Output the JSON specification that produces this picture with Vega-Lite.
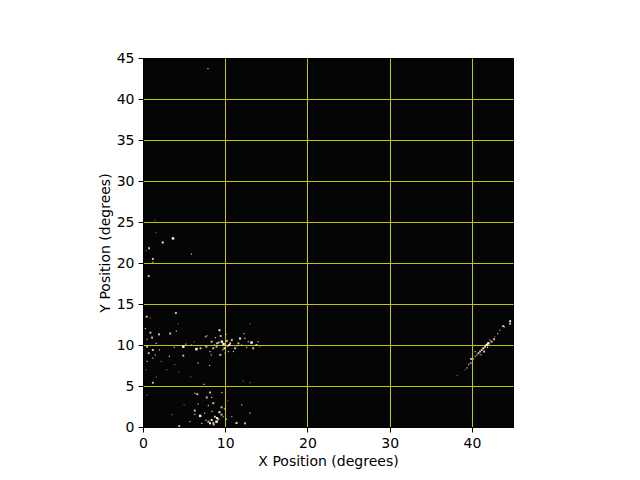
{
  "$schema": "https://vega.github.io/schema/vega-lite/v6.json",
  "width": 370,
  "height": 369,
  "autosize": {"type": "none"},
  "padding": {"left": 143, "top": 58, "right": 127, "bottom": 53},
  "background": "white",
  "config": {
    "view": {"fill": "#050505", "stroke": "black", "strokeWidth": 1},
    "axis": {
      "labelFont": "DejaVu Sans",
      "labelFontSize": 14,
      "labelColor": "black",
      "labelFlush": false,
      "titleFont": "DejaVu Sans",
      "titleFontSize": 14,
      "titleFontWeight": "normal",
      "titleColor": "black",
      "tickColor": "black",
      "tickSize": 5,
      "domainColor": "black",
      "labelPadding": 4,
      "gridColor": {"condition": {"test": "datum.value == 0 || datum.value == 45", "value": "transparent"}, "value": "#c4c400"},
      "gridOpacity": 1,
      "gridWidth": 1,
      "zindex": 1
    }
  },
  "data": {
    "values": [
      {"x": 7.9, "y": 43.7, "type": "G", "mag": 3},
      {"x": 1.5, "y": 25.2, "type": "M", "mag": 3},
      {"x": 1.6, "y": 23.7, "type": "M", "mag": 3},
      {"x": 2.4, "y": 22.5, "type": "F", "mag": 2},
      {"x": 3.65, "y": 23.0, "type": "F", "mag": 1},
      {"x": 0.73, "y": 21.8, "type": "G", "mag": 2},
      {"x": 0.4, "y": 21.5, "type": "M", "mag": 3},
      {"x": 5.9, "y": 21.1, "type": "G", "mag": 3},
      {"x": 1.2, "y": 20.5, "type": "G", "mag": 2},
      {"x": 1.2, "y": 20.1, "type": "G", "mag": 3},
      {"x": 0.7, "y": 18.4, "type": "G", "mag": 2},
      {"x": 0.45, "y": 13.45, "type": "G", "mag": 2},
      {"x": 0.9, "y": 13.3, "type": "M", "mag": 3},
      {"x": 4.0, "y": 13.9, "type": "G", "mag": 2},
      {"x": 0.3, "y": 12.0, "type": "G", "mag": 3},
      {"x": 0.9, "y": 11.5, "type": "G", "mag": 2},
      {"x": 1.1, "y": 10.9, "type": "G", "mag": 2},
      {"x": 1.95, "y": 11.3, "type": "G", "mag": 2},
      {"x": 3.3, "y": 11.4, "type": "G", "mag": 2},
      {"x": 4.05, "y": 11.7, "type": "G", "mag": 3},
      {"x": 4.3, "y": 12.6, "type": "M", "mag": 3},
      {"x": 0.5, "y": 10.7, "type": "G", "mag": 3},
      {"x": 0.5, "y": 9.8, "type": "G", "mag": 2},
      {"x": 0.7, "y": 9.0, "type": "G", "mag": 2},
      {"x": 1.2, "y": 9.4, "type": "G", "mag": 2},
      {"x": 1.5, "y": 8.8, "type": "G", "mag": 3},
      {"x": 2.0, "y": 9.4, "type": "G", "mag": 3},
      {"x": 4.9, "y": 8.7, "type": "B", "mag": 2},
      {"x": 3.2, "y": 8.6, "type": "G", "mag": 3},
      {"x": 3.8, "y": 9.7, "type": "G", "mag": 3},
      {"x": 4.9, "y": 9.8, "type": "F", "mag": 1},
      {"x": 5.9, "y": 10.0, "type": "G", "mag": 3},
      {"x": 6.5, "y": 9.5, "type": "F", "mag": 1},
      {"x": 7.0, "y": 9.6, "type": "G", "mag": 2},
      {"x": 7.6, "y": 11.0, "type": "G", "mag": 3},
      {"x": 7.7, "y": 9.8, "type": "G", "mag": 2},
      {"x": 6.7, "y": 7.8, "type": "G", "mag": 3},
      {"x": 0.5, "y": 8.0, "type": "G", "mag": 3},
      {"x": 2.2, "y": 8.0, "type": "M", "mag": 3},
      {"x": 5.2, "y": 10.1, "type": "G", "mag": 3},
      {"x": 6.2, "y": 10.4, "type": "M", "mag": 3},
      {"x": 2.6, "y": 10.0, "type": "M", "mag": 3},
      {"x": 1.6, "y": 10.2, "type": "G", "mag": 3},
      {"x": 9.3, "y": 11.8, "type": "F", "mag": 2},
      {"x": 9.45, "y": 11.1, "type": "G", "mag": 2},
      {"x": 8.8, "y": 10.9, "type": "G", "mag": 3},
      {"x": 8.35, "y": 10.4, "type": "G", "mag": 2},
      {"x": 9.2, "y": 10.3, "type": "B", "mag": 2},
      {"x": 9.6, "y": 10.4, "type": "F", "mag": 1},
      {"x": 9.8, "y": 10.1, "type": "F", "mag": 1},
      {"x": 8.95, "y": 9.8, "type": "G", "mag": 2},
      {"x": 8.55, "y": 9.6, "type": "G", "mag": 2},
      {"x": 8.15, "y": 9.2, "type": "G", "mag": 3},
      {"x": 10.6, "y": 10.2, "type": "G", "mag": 2},
      {"x": 10.8, "y": 10.6, "type": "G", "mag": 2},
      {"x": 11.2, "y": 9.6, "type": "G", "mag": 2},
      {"x": 11.0, "y": 9.2, "type": "G", "mag": 3},
      {"x": 11.6, "y": 10.2, "type": "G", "mag": 2},
      {"x": 11.8, "y": 10.8, "type": "F", "mag": 2},
      {"x": 12.3, "y": 11.4, "type": "G", "mag": 3},
      {"x": 12.4, "y": 10.8, "type": "G", "mag": 3},
      {"x": 13.2, "y": 10.3, "type": "F", "mag": 1},
      {"x": 13.4, "y": 9.6, "type": "G", "mag": 2},
      {"x": 13.8, "y": 10.0, "type": "G", "mag": 2},
      {"x": 12.6, "y": 9.7, "type": "G", "mag": 3},
      {"x": 10.4, "y": 9.2, "type": "G", "mag": 3},
      {"x": 10.0, "y": 9.0, "type": "G", "mag": 3},
      {"x": 9.4, "y": 8.8, "type": "G", "mag": 2},
      {"x": 8.3, "y": 8.8, "type": "G", "mag": 3},
      {"x": 7.75, "y": 11.1, "type": "G", "mag": 3},
      {"x": 13.0, "y": 12.6, "type": "M", "mag": 3},
      {"x": 10.2, "y": 10.5, "type": "G", "mag": 2},
      {"x": 9.9, "y": 9.6, "type": "F", "mag": 2},
      {"x": 10.3, "y": 9.9, "type": "G", "mag": 2},
      {"x": 9.0, "y": 10.2, "type": "G", "mag": 2},
      {"x": 8.7, "y": 10.0, "type": "G", "mag": 3},
      {"x": 10.1, "y": 11.3, "type": "G", "mag": 3},
      {"x": 11.4, "y": 9.9, "type": "G", "mag": 3},
      {"x": 12.0, "y": 10.0, "type": "G", "mag": 3},
      {"x": 14.0, "y": 10.4, "type": "G", "mag": 3},
      {"x": 12.8, "y": 10.4, "type": "G", "mag": 3},
      {"x": 10.5, "y": 10.0, "type": "F", "mag": 2},
      {"x": 9.7, "y": 9.4, "type": "B", "mag": 3},
      {"x": 14.2, "y": 9.8, "type": "M", "mag": 3},
      {"x": 1.2, "y": 8.4, "type": "G", "mag": 3},
      {"x": 8.1, "y": 7.5, "type": "G", "mag": 3},
      {"x": 0.4, "y": 7.0, "type": "M", "mag": 3},
      {"x": 2.9, "y": 7.0, "type": "M", "mag": 3},
      {"x": 4.35, "y": 6.7, "type": "M", "mag": 3},
      {"x": 5.8, "y": 6.1, "type": "M", "mag": 3},
      {"x": 1.2, "y": 5.4, "type": "G", "mag": 2},
      {"x": 7.4, "y": 5.2, "type": "G", "mag": 3},
      {"x": 3.85, "y": 7.6, "type": "M", "mag": 3},
      {"x": 1.6, "y": 6.1, "type": "M", "mag": 3},
      {"x": 0.5, "y": 3.9, "type": "M", "mag": 3},
      {"x": 12.2, "y": 5.6, "type": "M", "mag": 3},
      {"x": 13.0, "y": 5.4, "type": "M", "mag": 3},
      {"x": 6.3, "y": 4.1, "type": "G", "mag": 3},
      {"x": 7.75, "y": 3.6, "type": "G", "mag": 2},
      {"x": 8.35, "y": 3.6, "type": "G", "mag": 3},
      {"x": 8.15, "y": 4.2, "type": "G", "mag": 2},
      {"x": 8.55, "y": 2.9, "type": "G", "mag": 2},
      {"x": 7.95, "y": 2.6, "type": "G", "mag": 3},
      {"x": 9.55, "y": 2.4, "type": "G", "mag": 2},
      {"x": 9.3, "y": 1.8, "type": "F", "mag": 2},
      {"x": 9.55, "y": 1.5, "type": "G", "mag": 2},
      {"x": 8.75, "y": 1.25, "type": "G", "mag": 2},
      {"x": 8.35, "y": 0.85, "type": "F", "mag": 2},
      {"x": 7.95, "y": 0.65, "type": "G", "mag": 2},
      {"x": 8.15, "y": 0.45, "type": "F", "mag": 2},
      {"x": 8.55, "y": 0.5, "type": "G", "mag": 2},
      {"x": 8.95, "y": 0.65, "type": "F", "mag": 1},
      {"x": 9.15, "y": 0.95, "type": "G", "mag": 2},
      {"x": 7.65, "y": 0.85, "type": "G", "mag": 3},
      {"x": 6.95, "y": 1.35, "type": "F", "mag": 1},
      {"x": 7.15, "y": 0.45, "type": "G", "mag": 3},
      {"x": 6.3, "y": 2.0, "type": "B", "mag": 2},
      {"x": 6.3, "y": 1.55, "type": "G", "mag": 3},
      {"x": 5.7, "y": 0.65, "type": "B", "mag": 3},
      {"x": 9.75, "y": 1.25, "type": "G", "mag": 3},
      {"x": 10.15, "y": 0.95, "type": "G", "mag": 3},
      {"x": 10.8, "y": 1.25, "type": "G", "mag": 3},
      {"x": 11.4, "y": 0.5, "type": "G", "mag": 2},
      {"x": 12.0, "y": 2.7, "type": "G", "mag": 3},
      {"x": 12.4, "y": 0.45, "type": "G", "mag": 2},
      {"x": 5.0, "y": 2.7, "type": "M", "mag": 3},
      {"x": 6.7, "y": 2.8, "type": "G", "mag": 3},
      {"x": 4.4, "y": 0.1, "type": "G", "mag": 2},
      {"x": 11.3, "y": 0.45, "type": "G", "mag": 3},
      {"x": 6.6, "y": 4.0, "type": "G", "mag": 2},
      {"x": 9.6, "y": 4.2, "type": "G", "mag": 3},
      {"x": 13.0, "y": 1.7, "type": "G", "mag": 3},
      {"x": 8.4, "y": 1.9, "type": "G", "mag": 3},
      {"x": 9.0, "y": 1.1, "type": "F", "mag": 2},
      {"x": 8.6, "y": 0.3, "type": "G", "mag": 2},
      {"x": 7.5, "y": 1.7, "type": "G", "mag": 3},
      {"x": 10.3, "y": 3.2, "type": "M", "mag": 3},
      {"x": 9.9, "y": 2.2, "type": "G", "mag": 3},
      {"x": 3.5, "y": 1.5, "type": "M", "mag": 3},
      {"x": 44.65, "y": 12.9, "type": "F", "mag": 2},
      {"x": 44.65, "y": 12.6, "type": "G", "mag": 2},
      {"x": 43.95, "y": 12.2, "type": "G", "mag": 3},
      {"x": 43.8, "y": 12.3, "type": "G", "mag": 2},
      {"x": 43.4, "y": 11.8, "type": "G", "mag": 3},
      {"x": 43.15, "y": 11.4, "type": "G", "mag": 3},
      {"x": 42.7, "y": 10.7, "type": "G", "mag": 2},
      {"x": 42.4, "y": 10.4, "type": "G", "mag": 2},
      {"x": 42.0, "y": 10.2, "type": "F", "mag": 1},
      {"x": 41.8, "y": 10.0, "type": "F", "mag": 1},
      {"x": 41.6, "y": 9.8, "type": "G", "mag": 2},
      {"x": 41.4, "y": 9.6, "type": "F", "mag": 2},
      {"x": 41.2, "y": 9.4, "type": "G", "mag": 2},
      {"x": 41.0, "y": 9.2, "type": "G", "mag": 2},
      {"x": 40.8, "y": 9.0, "type": "G", "mag": 2},
      {"x": 40.6, "y": 8.8, "type": "G", "mag": 3},
      {"x": 40.4, "y": 8.6, "type": "G", "mag": 3},
      {"x": 40.2, "y": 8.3, "type": "G", "mag": 3},
      {"x": 39.9, "y": 8.3, "type": "B", "mag": 2},
      {"x": 39.8, "y": 7.8, "type": "G", "mag": 3},
      {"x": 39.6, "y": 7.6, "type": "G", "mag": 3},
      {"x": 39.4, "y": 7.2, "type": "G", "mag": 3},
      {"x": 39.2, "y": 7.0, "type": "M", "mag": 3},
      {"x": 41.1, "y": 8.8, "type": "G", "mag": 3},
      {"x": 41.5, "y": 9.2, "type": "G", "mag": 2},
      {"x": 40.4, "y": 9.2, "type": "G", "mag": 3},
      {"x": 38.2, "y": 6.3, "type": "M", "mag": 3},
      {"x": 40.0, "y": 7.8, "type": "G", "mag": 3},
      {"x": 42.2, "y": 10.6, "type": "G", "mag": 3},
      {"x": 41.9, "y": 9.7, "type": "G", "mag": 3},
      {"x": 42.8, "y": 11.0, "type": "M", "mag": 3}
    ]
  },
  "mark": {"type": "square", "opacity": 1, "clip": true},
  "encoding": {
    "x": {
      "field": "x",
      "type": "quantitative",
      "scale": {"domain": [0, 45], "nice": false, "zero": false},
      "axis": {"values": [0, 10, 20, 30, 40], "title": "X Position (degrees)", "grid": true}
    },
    "y": {
      "field": "y",
      "type": "quantitative",
      "scale": {"domain": [0, 45], "nice": false, "zero": false},
      "axis": {"values": [0, 5, 10, 15, 20, 25, 30, 35, 40, 45], "title": "Y Position (degrees)", "grid": true}
    },
    "color": {
      "field": "type",
      "type": "nominal",
      "scale": {"domain": ["B", "F", "G", "M"], "range": ["#a8c4e8", "#fff8ee", "#d9c2a3", "#6e5848"]},
      "legend": null
    },
    "size": {
      "field": "mag",
      "type": "quantitative",
      "scale": {"domain": [1, 3], "range": [6, 1.5]},
      "legend": null
    }
  }
}
